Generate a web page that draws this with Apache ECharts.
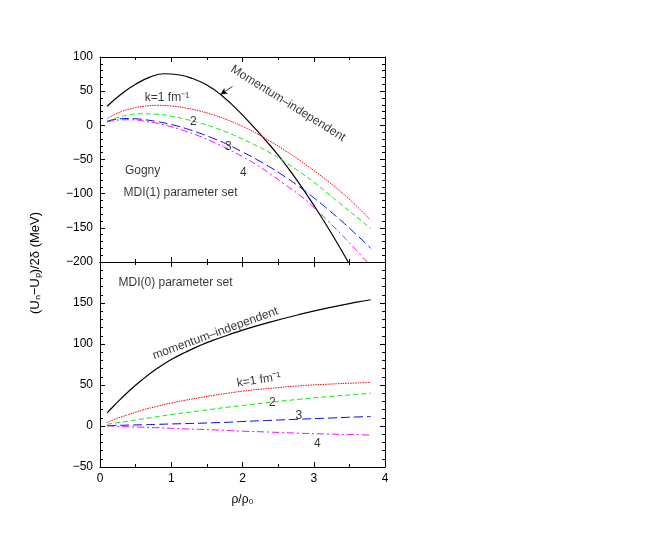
<!DOCTYPE html>
<html>
<head>
<meta charset="utf-8">
<script src="https://cdn.jsdelivr.net/npm/echarts@6/dist/echarts.min.js"></script>
<style>
  html, body { margin: 0; padding: 0; background: #fff; }
  #myChart { width: 654px; height: 545px; }
</style>
</head>
<body>
<div id="myChart"></div>
<script>
// ---- data ----
var xTop = [0.1, 0.2, 0.3, 0.4, 0.5, 0.6, 0.8, 1.0, 1.2, 1.4, 1.6, 1.8, 2.0, 2.2, 2.4, 2.6, 2.8, 3.0, 3.2, 3.4, 3.6, 3.8];
var topK1 = [10, 15.5, 20, 23.5, 26, 27.8, 29.2, 28.3, 25.5, 21, 15, 7.5, -1.5, -12, -24, -37, -51, -66, -82, -99, -118, -139];
var topK2 = [5, 9.5, 13, 15, 16.5, 17, 16.3, 13.3, 9, 3.5, -3, -11, -20, -30, -41, -54, -68, -83, -100, -117, -134, -151];
var topK3 = [6, 8.5, 9.7, 10, 9.6, 8.6, 5.5, 1.2, -4.5, -11.5, -19.5, -28.5, -39, -50, -62, -75.5, -90, -106, -123, -141, -160, -180];
var topK4 = [5, 7, 8, 8.2, 7.7, 6.5, 3, -2, -8.5, -16, -25, -35, -46, -58, -72, -87, -102, -120, -140, -161, -183, -206];

var xTopFree = [0.1, 0.3, 0.5, 0.7, 0.9, 1.1, 1.3, 1.5, 1.7, 1.9, 2.1, 2.3, 2.5, 2.7, 2.9, 3.1, 3.3, 3.5, 3.7];
var topFree = [28, 46, 60, 70.5, 75.5, 74, 68.5, 59, 44.5, 25.5, 4, -19, -43.5, -71, -101, -133, -167, -203, -240];

var xBot = [0.1, 0.2, 0.4, 0.6, 0.8, 1.0, 1.2, 1.4, 1.6, 1.8, 2.0, 2.4, 2.8, 3.2, 3.6, 3.8];
var botFree = [16, 25, 42, 57, 70, 81, 90, 98, 105, 111, 117, 127, 136, 144, 151, 154];
var botK1 = [4, 8, 14, 19.5, 24, 28, 31.5, 34.5, 37.5, 40, 42.5, 46, 49, 51, 52.5, 53];
var botK2 = [2, 3.5, 6, 8.6, 11.3, 14, 16.3, 18.5, 20.8, 23, 25, 29, 32.6, 35.8, 38.6, 40];
var botK3 = [0.5, 0.7, 1.1, 1.5, 2, 2.5, 2.9, 3.4, 4, 4.6, 5.5, 6.9, 8.3, 9.6, 11, 11.5];
var botK4 = [0, -0.3, -0.9, -1.5, -2.1, -2.8, -3.5, -4.1, -4.8, -5.5, -6.3, -7.5, -8.8, -9.8, -10.6, -11];

var topYRange = [-200, 100];
var botYRange = [-50, 200];

// text notes, in data coordinates
var topNotes = [
    { text: 'Momentum\u2013independent', x: 2.64, y: 32, rotate: -32, align: 'center' },
    { text: 'k=1 fm\u207B\u00B9', x: 0.94, y: 40, rotate: 0, align: 'center' },
    { text: '2', x: 1.31, y: 5, rotate: 0, align: 'center' },
    { text: '3', x: 1.80, y: -31, rotate: 0, align: 'center' },
    { text: '4', x: 2.01, y: -69, rotate: 0, align: 'center' },
    { text: 'Gogny', x: 0.35, y: -67, rotate: 0, align: 'left' },
    { text: 'MDI(1) parameter set', x: 0.33, y: -98, rotate: 0, align: 'left' }
];
var botNotes = [
    { text: 'MDI(0) parameter set', x: 0.26, y: 175, rotate: 0, align: 'left' },
    { text: 'momentum\u2013independent', x: 1.62, y: 113, rotate: 20, align: 'center' },
    { text: 'k=1 fm\u207B\u00B9', x: 2.23, y: 56, rotate: 9, align: 'center' },
    { text: '2', x: 2.42, y: 28, rotate: 0, align: 'center' },
    { text: '3', x: 2.79, y: 12, rotate: 0, align: 'center' },
    { text: '4', x: 3.05, y: -21, rotate: 0, align: 'center' }
];

var FONT = "'Liberation Sans', Arial, sans-serif";

function zip(xs, ys) {
    return xs.map(function (x, i) { return [x, ys[i]]; });
}

function xAx(grid, pos, showLabel) {
    return {
        type: 'value', gridIndex: grid, position: pos,
        min: 0, max: 4, interval: 1,
        axisLine: { show: true, onZero: false, lineStyle: { color: '#000', width: 1 } },
        axisTick: { show: true, inside: true, length: 5, lineStyle: { color: '#000' } },
        minorTick: { show: true, splitNumber: 2, length: 3, lineStyle: { color: '#000' } },
        axisLabel: { show: showLabel, color: '#000', fontFamily: FONT, fontSize: 12, margin: 6 },
        splitLine: { show: false }
    };
}

function yAx(grid, pos, range, showLabel, hideTop) {
    return {
        type: 'value', gridIndex: grid, position: pos,
        min: range[0], max: range[1], interval: 50,
        axisLine: { show: true, onZero: false, lineStyle: { color: '#000', width: 1 } },
        axisTick: { show: true, inside: true, length: 5, lineStyle: { color: '#000' } },
        minorTick: { show: true, splitNumber: 5, length: 3, lineStyle: { color: '#000' } },
        axisLabel: {
            show: showLabel, color: '#000', fontFamily: FONT, fontSize: 12, margin: 7,
            formatter: function (v) {
                if (hideTop && v === range[1]) return '';
                return v < 0 ? '\u2212' + Math.abs(v) : String(v);
            }
        },
        splitLine: { show: false }
    };
}

function curve(name, xi, yi, xs, ys, color, dash, width) {
    return {
        name: name, type: 'line', xAxisIndex: xi, yAxisIndex: yi,
        data: zip(xs, ys), showSymbol: false, smooth: true, clip: true,
        lineStyle: { color: color, width: width || 1, type: dash },
        silent: true, z: 3
    };
}

function notes(list, xi, yi) {
    return {
        type: 'scatter', xAxisIndex: xi, yAxisIndex: yi, symbolSize: 0, silent: true,
        data: list.map(function (n) {
            return {
                value: [n.x, n.y],
                label: {
                    show: true, position: 'inside', formatter: n.text, rotate: n.rotate,
                    align: n.align, verticalAlign: 'middle',
                    color: '#000', fontFamily: FONT, fontSize: 12
                }
            };
        }),
        z: 5
    };
}

var myChart = echarts.init(document.getElementById('myChart'));

var topFreeSeries = curve('top free', 0, 0, xTopFree, topFree, '#000', 'solid', 1.2);
topFreeSeries.markLine = {
    silent: true, symbol: ['none', 'arrow'], symbolSize: [5, 7],
    label: { show: false },
    lineStyle: { color: '#000', width: 0.8, type: 'solid' },
    data: [[{ coord: [1.86, 57] }, { coord: [1.69, 45] }]]
};

var option = {
    animation: false,
    backgroundColor: '#fff',
    grid: [
        { left: 100, top: 57, width: 285, height: 205 },
        { left: 100, top: 262, width: 285, height: 205 }
    ],
    xAxis: [
        xAx(0, 'bottom', false),
        xAx(0, 'top', false),
        Object.assign(xAx(1, 'bottom', true), {
            name: '\u03C1/\u03C1\u2080', nameLocation: 'middle', nameGap: 27,
            nameTextStyle: { color: '#000', fontFamily: FONT, fontSize: 12 }
        }),
        xAx(1, 'top', false)
    ],
    yAxis: [
        yAx(0, 'left', topYRange, true, false),
        yAx(0, 'right', topYRange, false, false),
        yAx(1, 'left', botYRange, true, true),
        yAx(1, 'right', botYRange, false, false)
    ],
    graphic: [{
        type: 'text', x: 35, y: 263, rotation: Math.PI / 2,
        style: {
            text: '(U\u2099\u2212U\u209A)/2\u03B4 (MeV)',
            fill: '#000', font: '13px ' + FONT,
            align: 'center', verticalAlign: 'middle'
        }
    }],
    series: [
        topFreeSeries,
        curve('top k1', 0, 0, xTop, topK1, '#ff0000', [1.5, 1]),
        curve('top k2', 0, 0, xTop, topK2, '#00ee00', [5, 3]),
        curve('top k3', 0, 0, xTop, topK3, '#0000ff', [9, 4]),
        curve('top k4', 0, 0, xTop, topK4, '#ff00ff', [7, 3, 2, 3]),
        curve('bot free', 2, 2, xBot, botFree, '#000', 'solid', 1.2),
        curve('bot k1', 2, 2, xBot, botK1, '#ff0000', [1.5, 1]),
        curve('bot k2', 2, 2, xBot, botK2, '#00ee00', [5, 3]),
        curve('bot k3', 2, 2, xBot, botK3, '#0000ff', [9, 4]),
        curve('bot k4', 2, 2, xBot, botK4, '#ff00ff', [7, 3, 2, 3]),
        notes(topNotes, 0, 0),
        notes(botNotes, 2, 2)
    ]
};
myChart.setOption(option);
</script>
</body>
</html>
